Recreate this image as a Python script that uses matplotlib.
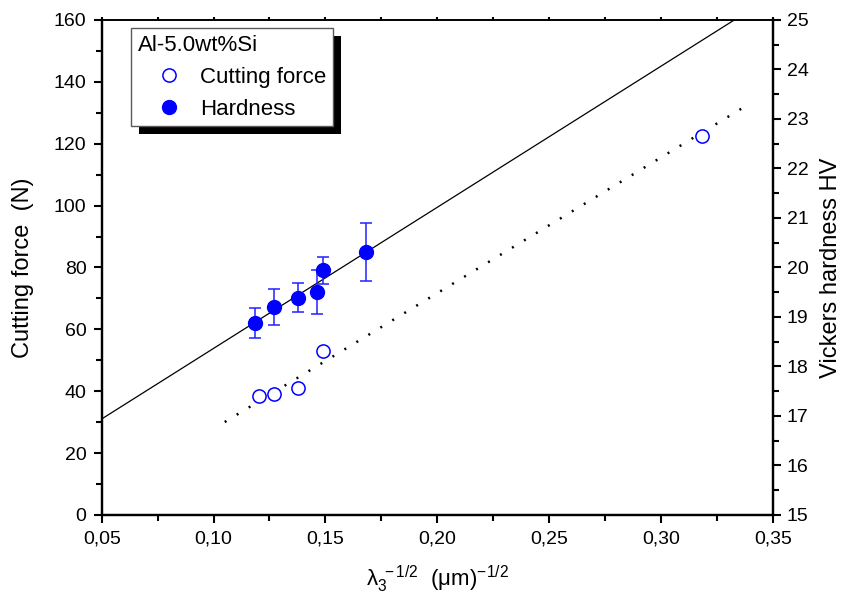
import numpy as np
import matplotlib
matplotlib.use("Agg")
import matplotlib.pyplot as plt
from matplotlib.patches import Rectangle
from matplotlib.ticker import MultipleLocator, FuncFormatter

plt.rcParams['font.family'] = ['Liberation Sans', 'DejaVu Sans']
plt.rcParams['mathtext.fontset'] = 'custom'
plt.rcParams['mathtext.rm'] = 'Liberation Sans'
plt.rcParams['mathtext.it'] = 'Liberation Sans'

# cutting force (left axis)
x_cf = [0.1202, 0.1271, 0.1377, 0.1491, 0.3183]
cf = [38.6, 39.1, 41.0, 53.1, 122.6]

# Vickers hardness (right axis)
x_hv = [0.1186, 0.1271, 0.1377, 0.1464, 0.1491, 0.1682]
hv = [18.88, 19.20, 19.39, 19.50, 19.94, 20.31]
hv_err = [0.31, 0.36, 0.29, 0.44, 0.27, 0.58]

# linear fits: intercept, slope
fit_cf = [-16.0, 438.5]
fit_cf_range = [0.105, 0.336]
fit_hv = [15.515, 28.5]
fit_hv_range = [0.05, 0.35]

fig = plt.figure(figsize=(8.42, 5.97), dpi=100)
ax = fig.add_axes([0.1208, 0.1374, 0.7969, 0.8291])
ax2 = ax.twinx()

xf = np.array(fit_cf_range)
ax.plot(xf, fit_cf[0] + fit_cf[1]*xf, color='k', lw=1.8, linestyle=(0, (0.8, 4.8)), zorder=2)
xh = np.array(fit_hv_range)
ax2.plot(xh, fit_hv[0] + fit_hv[1]*xh, color='k', lw=0.9, zorder=2)

h1, = ax.plot(x_cf, cf, 'o', ms=9.5, mfc='white', mec='#0000ff', mew=1.1, zorder=3,
              label='Cutting force')
ax2.errorbar(x_hv, hv, yerr=hv_err, fmt='none', ecolor='#2222ff', elinewidth=1.1,
             capsize=4.5, capthick=1.1, zorder=3)
h2, = ax2.plot(x_hv, hv, 'o', ms=10, color='#0000ff', zorder=4, label='Hardness')

ax.set_xlim(0.05, 0.35)
ax.set_ylim(0, 160)
ax2.set_ylim(15, 25)

ax.xaxis.set_major_locator(MultipleLocator(0.05))
ax.xaxis.set_minor_locator(MultipleLocator(0.025))
ax.xaxis.set_major_formatter(FuncFormatter(lambda v, p: ('%.2f' % v).replace('.', ',')))
ax.yaxis.set_major_locator(MultipleLocator(20))
ax.yaxis.set_minor_locator(MultipleLocator(10))
ax2.yaxis.set_major_locator(MultipleLocator(1))
ax2.yaxis.set_minor_locator(MultipleLocator(0.5))

for a in (ax, ax2):
    for s in a.spines.values():
        s.set_linewidth(1.6)
    a.spines['top'].set_linewidth(1.2)
ax.tick_params(which='major', direction='out', length=6, width=1.5, labelsize=14, pad=5)
ax.tick_params(which='minor', direction='out', length=4, width=1.5)
ax.tick_params(axis='x', which='both', top=True, labeltop=False)
ax2.tick_params(which='major', direction='out', length=6, width=1.5, labelsize=14, pad=4)
ax2.tick_params(which='minor', direction='out', length=4, width=1.5)
# tiny ticks on the top edge
for t in ax.xaxis.get_major_ticks() + ax.xaxis.get_minor_ticks():
    t.tick2line.set_markersize(2)

ax.set_ylabel('Cutting force  (N)', fontsize=17, labelpad=14)
ax2.set_ylabel('Vickers hardness HV', fontsize=17, labelpad=8)
ax.set_xlabel('λ$_3^{\\ -1/2}$  (μm)$^{-1/2}$', fontsize=16, labelpad=12)

leg = ax2.legend(handles=[h1, h2], title='Al-5.0wt%Si', loc='upper left',
                 bbox_to_anchor=(0.044, 0.984), fontsize=16, title_fontsize=16,
                 fancybox=False, framealpha=1, edgecolor='0.35', alignment='left',
                 handletextpad=0.0, borderpad=0.3, labelspacing=0.5, handlelength=2.8,
                 borderaxespad=0)
leg.get_frame().set_linewidth(1.0)
leg.set_zorder(10)

# black drop shadow behind the legend
fig.canvas.draw()
bb = leg.get_window_extent().transformed(fig.transFigure.inverted())
dx, dy = 8/842, 8/597
fig.patches.append(Rectangle((bb.x0 + dx, bb.y0 - dy), bb.width, bb.height,
                             transform=fig.transFigure, facecolor='k', edgecolor='none',
                             zorder=1))
ax.set_zorder(2)
ax2.set_zorder(3)
ax.patch.set_visible(False)

fig.savefig('out.png', dpi=100)
